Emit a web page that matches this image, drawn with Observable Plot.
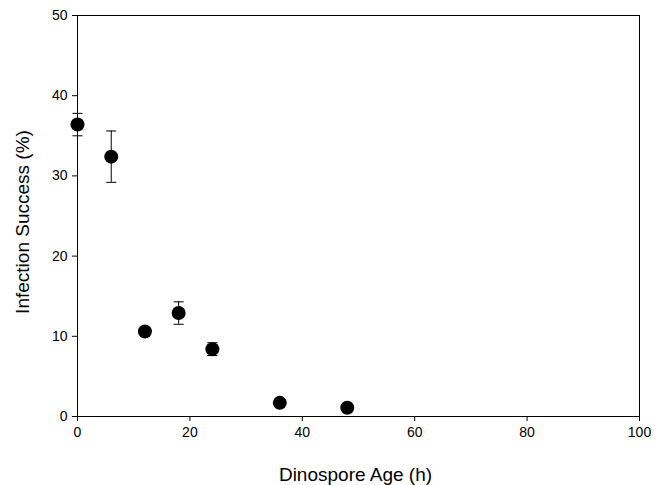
<!DOCTYPE html>
<html><head><meta charset="utf-8">
<script src="https://cdn.jsdelivr.net/npm/d3@7"></script>
<script src="https://cdn.jsdelivr.net/npm/@observablehq/plot@0.6"></script>
<style>body{margin:0;background:#fff;} svg{display:block;}</style>
</head><body><div id="chart"></div>
<script>
const ages = [0, 6, 12, 18, 24, 36, 48];
const success = [36.4, 32.4, 10.6, 12.9, 8.4, 1.7, 1.1];
const errors = [1.4, 3.2, 0.3, 1.4, 0.8, 0.5, 0.3];
const xTicks = [0, 20, 40, 60, 80, 100];
const yTicks = [0, 10, 20, 30, 40, 50];
const xTitle = "Dinospore Age (h)";
const yTitle = "Infection Success (%)";

const data = ages.map((a, i) => ({x: a, y: success[i], e: errors[i]}));
const capHalf = 0.9;

const chart = Plot.plot({
  width: 662, height: 485,
  marginLeft: 77, marginRight: 23, marginTop: 15, marginBottom: 69,
  style: {fontFamily: "Liberation Sans, Arial, sans-serif", fontSize: "14px", color: "#000", background: "#fff"},
  x: {domain: [0, 100]},
  y: {domain: [0, 50]},
  marks: [
    Plot.frame({stroke: "#000", strokeWidth: 1}),
    Plot.axisX({ticks: xTicks, tickSize: 5, tickPadding: 6, label: null, fontSize: 14}),
    Plot.axisY({ticks: yTicks, tickSize: 5, tickPadding: 5, label: null, fontSize: 14}),
    Plot.text([xTitle], {text: d => d, frameAnchor: "bottom", dy: 64, dx: -3, lineAnchor: "bottom", textAnchor: "middle", fontSize: 19, fill: "#000"}),
    Plot.text([yTitle], {text: d => d, frameAnchor: "left", dx: -55, dy: 6, rotate: -90, lineAnchor: "middle", textAnchor: "middle", fontSize: 19, fill: "#000"}),
    Plot.ruleX(data, {x: "x", y1: d => d.y - d.e, y2: d => d.y + d.e, stroke: "#000", strokeWidth: 1}),
    Plot.link(data, {x1: d => d.x - capHalf, x2: d => d.x + capHalf, y1: d => d.y + d.e, y2: d => d.y + d.e, stroke: "#000", strokeWidth: 1}),
    Plot.link(data, {x1: d => d.x - capHalf, x2: d => d.x + capHalf, y1: d => d.y - d.e, y2: d => d.y - d.e, stroke: "#000", strokeWidth: 1}),
    Plot.dot(data, {x: "x", y: "y", r: 7, fill: "#000", stroke: "none"})
  ]
});
document.getElementById("chart").appendChild(chart);
</script>
</body></html>
